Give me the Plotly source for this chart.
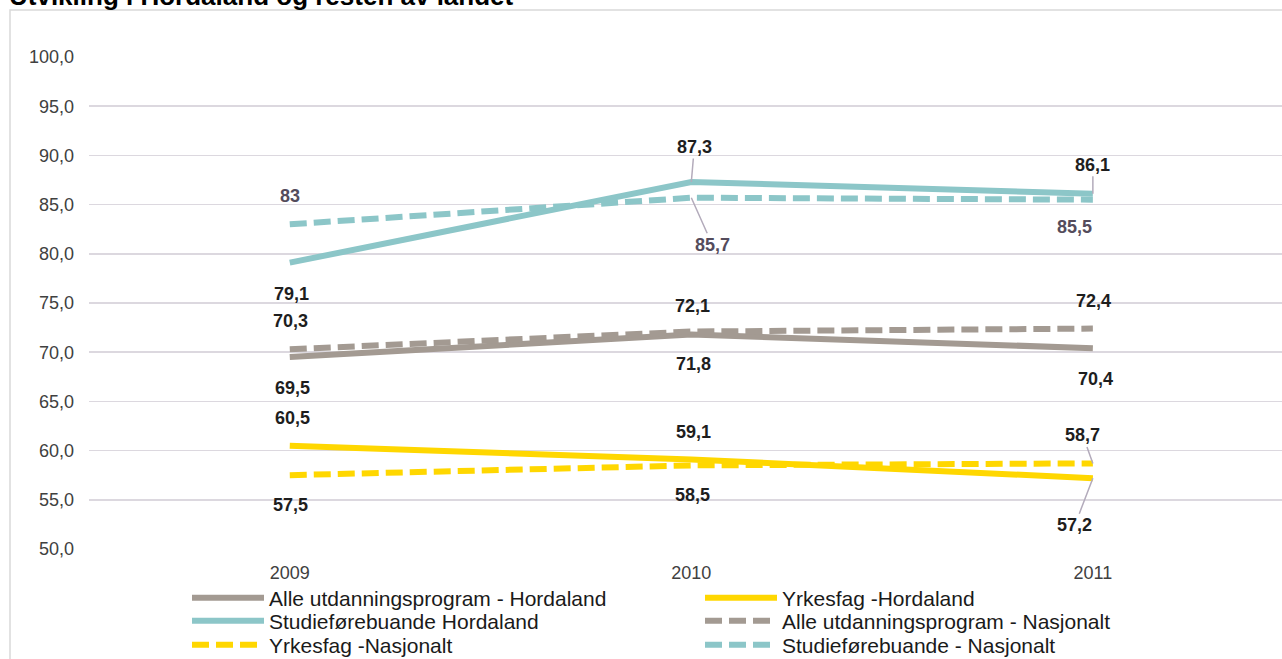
import plotly.graph_objects as go

years = ["2009", "2010", "2011"]

alle_hordaland = [69.5, 71.8, 70.4]
yrkesfag_hordaland = [60.5, 59.1, 57.2]
studie_hordaland = [79.1, 87.3, 86.1]
alle_nasjonalt = [70.3, 72.1, 72.4]
yrkesfag_nasjonalt = [57.5, 58.5, 58.7]
studie_nasjonalt = [83, 85.7, 85.5]

y_ticks = [50, 55, 60, 65, 70, 75, 80, 85, 90, 95, 100]

GRAY = "#a39a92"
GOLD = "#ffd700"
TEAL = "#8cc6c8"
LABEL = "#1e1e1e"
LABEL2 = "#544c5c"
LEADER = "#b3abbb"
FONT = "Liberation Sans, Arial, sans-serif"
DASH = "17px,7px"

# (name, values, colour, dash, legend row)
series = [
    ("Alle utdanningsprogram - Hordaland", alle_hordaland, GRAY, "solid", "legend"),
    ("Yrkesfag -Hordaland", yrkesfag_hordaland, GOLD, "solid", "legend"),
    ("Studieførebuande Hordaland", studie_hordaland, TEAL, "solid", "legend2"),
    ("Alle utdanningsprogram - Nasjonalt", alle_nasjonalt, GRAY, DASH, "legend2"),
    ("Yrkesfag -Nasjonalt", yrkesfag_nasjonalt, GOLD, DASH, "legend3"),
    ("Studieførebuande - Nasjonalt", studie_nasjonalt, TEAL, DASH, "legend3"),
]

# label offsets (pixels) per series per year, and whether a leader line is drawn
label_offsets = {
    "Alle utdanningsprogram - Hordaland": [(3, 31, False), (2, 30, False), (3, 31, False)],
    "Yrkesfag -Hordaland": [(3, -28, False), (2, -27, False), (-18, 47, True)],
    "Studieførebuande Hordaland": [(2, 31, False), (3, -35, True), (0, -29, True)],
    "Alle utdanningsprogram - Nasjonalt": [(1, -28, False), (1, -26, False), (1, -28, False)],
    "Yrkesfag -Nasjonalt": [(1, 30, False), (1, 30, False), (-10, -28, True)],
    "Studieførebuande - Nasjonalt": [(0, -28, False), (21, 47, True), (-18, 27, False)],
}
label_colors = {
    "Studieførebuande - Nasjonalt": LABEL2,
}

fig = go.Figure()
for name, vals, color, dash, leg in series:
    fig.add_trace(go.Scatter(
        x=years, y=vals, name=name, mode="lines",
        line=dict(color=color, width=6, dash=dash),
        hoverinfo="skip", legend=leg,
    ))

def fmt(v):
    if float(v).is_integer():
        return str(int(v))
    return f"{v:.1f}".replace(".", ",")

annotations = []
for name, vals, color, dash, leg in series:
    for i, v in enumerate(vals):
        ax, ay, leader = label_offsets[name][i]
        annotations.append(dict(
            x=i, y=v, xref="x", yref="y",
            text=f"<b>{fmt(v)}</b>",
            showarrow=True, arrowhead=0, arrowwidth=1.5,
            arrowcolor=LEADER if leader else "rgba(0,0,0,0)",
            ax=ax, ay=ay, standoff=0, startstandoff=0,
            font=dict(family=FONT, size=18, color=label_colors.get(name, LABEL)),
        ))

# Title (partially cut off at top, as in the reference)
annotations.append(dict(
    text="<b>Utvikling i Hordaland og resten av landet</b>",
    xref="paper", yref="paper", x=(7 - 89) / 1193, y=1 + (57 - 13) / 492,
    xanchor="left", yanchor="bottom", showarrow=False,
    font=dict(family=FONT, size=26, color="#000000"),
))

shapes = [
    dict(type="rect", xref="paper", yref="paper",
         x0=(10 - 89) / 1193, x1=(1300 - 89) / 1193,
         y0=-(110 + 20) / 492, y1=1 + (57 - 10) / 492,
         line=dict(color="#d9d9d9", width=1.5), fillcolor="rgba(0,0,0,0)",
         layer="below"),
]

def legend_row(center_px):
    return dict(
        orientation="h", x=(187 - 89) / 1193, xanchor="left",
        y=-(center_px - 549) / 492, yanchor="middle",
        itemwidth=72, entrywidth=426, entrywidthmode="pixels",
        font=dict(family=FONT, size=21, color="#1a1a1a"),
        bgcolor="rgba(0,0,0,0)", traceorder="normal",
        itemclick=False, itemdoubleclick=False,
    )

fig.update_layout(
    width=1282, height=659,
    margin=dict(l=89, r=0, t=57, b=110, autoexpand=False),
    paper_bgcolor="white", plot_bgcolor="white",
    separators=", ",
    font=dict(family=FONT, size=18, color="#404040"),
    showlegend=True,
    legend=legend_row(598),
    legend2=legend_row(621),
    legend3=legend_row(645),
    xaxis=dict(
        type="category", range=[-0.5, 2.471], showgrid=False,
        showline=False, ticks="", zeroline=False,
        tickfont=dict(family=FONT, size=18, color="#404040"),
        ticklabelstandoff=11,
    ),
    yaxis=dict(
        range=[50, 100], tickvals=y_ticks, tickformat=".1f",
        showgrid=True, gridcolor="#dcd8df", gridwidth=1.5,
        zeroline=False, showline=False, ticks="",
        tickfont=dict(family=FONT, size=18, color="#404040"),
        ticklabelstandoff=14,
    ),
    annotations=annotations,
    shapes=shapes,
)

fig.write_html(
    "out.html",
    config={"displayModeBar": False, "staticPlot": True},
    post_script="document.body.style.margin='0';document.body.style.overflow='hidden';",
)
